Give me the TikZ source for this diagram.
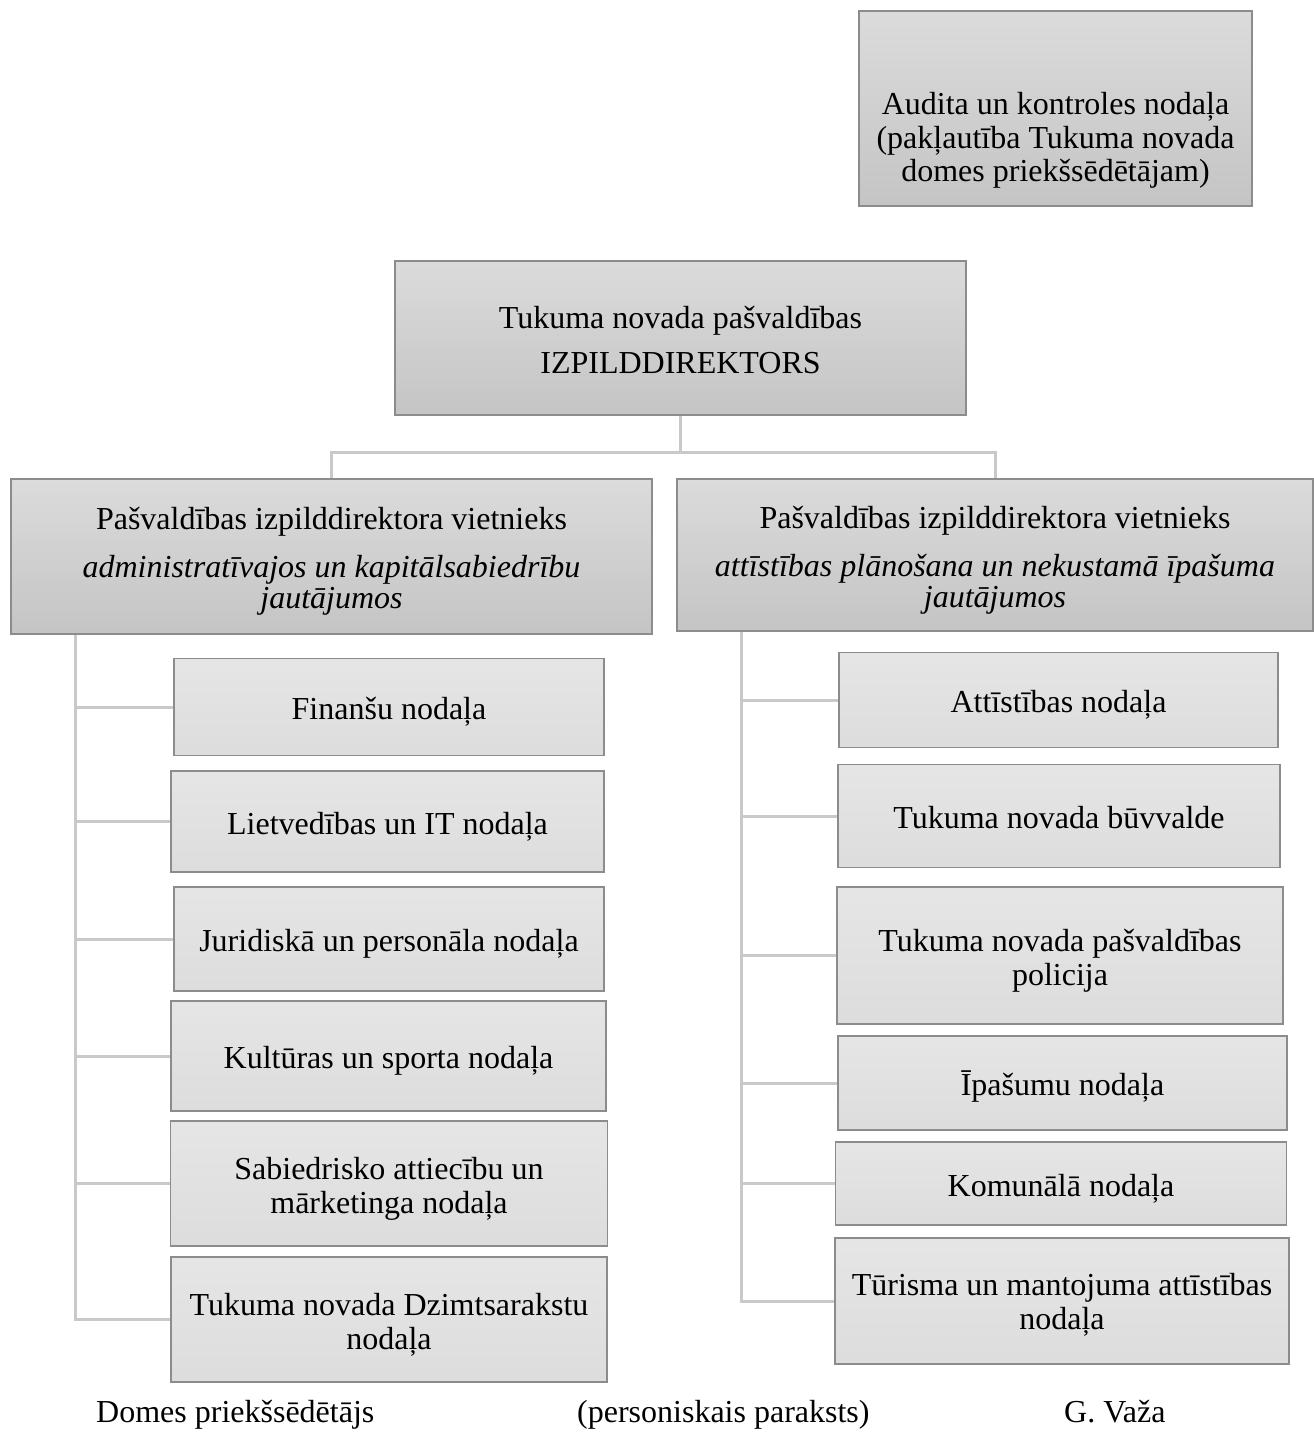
\documentclass[tikz,border=0pt]{standalone}
\usepackage{fontspec}
\setmainfont{Liberation Serif}
\begin{document}
\begin{tikzpicture}[x=1pt,y=-1pt,
  basebox/.style={draw=black!45, line width=1.3pt, align=center, inner sep=0pt,
    font=\fontsize{32}{34}\selectfont, text=black,
    execute at begin node={\rule{0pt}{33pt}},
    execute at end node={\rule[-8pt]{0pt}{8pt}}},
  toph/.style={execute at begin node={\rule{0pt}{#1}}},
  headbox/.style={basebox, top color=black!14, bottom color=black!23},
  unitbox/.style={basebox, top color=black!10, bottom color=black!13.5},
  conn/.style={draw=black!21, line width=3pt},
  sig/.style={font=\fontsize{32}{34}\selectfont, anchor=base west, inner sep=0pt}
]
\useasboundingbox (0,0) rectangle (1314,1433);

% head boxes
\node[headbox, minimum width=393pt, minimum height=195pt] (audit) at (1055.5,108.5) {};
\node[font=\fontsize{32}{33.5}\selectfont, align=center, inner sep=0pt] (audittxt) at (1055.5,140.5) {Audita un kontroles nodaļa\\(pakļautība Tukuma novada\\domes priekšsēdētājam)};

\node[headbox, toph=78pt, minimum width=571pt, minimum height=154pt] (top) at (680.5,338)
  {Tukuma novada pašvaldības\\[11pt]IZPILDDIREKTORS};

\node[headbox, toph=112pt, minimum width=641pt, minimum height=155pt] (LV) at (331.5,556.5)
  {Pašvaldības izpilddirektora vietnieks\\[14pt]{\itshape administratīvajos un kapitālsabiedrību}\\[-3pt]{\itshape jautājumos}};

\node[headbox, toph=112pt, minimum width=636pt, minimum height=152pt] (RV) at (995,555)
  {Pašvaldības izpilddirektora vietnieks\\[14pt]{\itshape attīstības plānošana un nekustamā īpašuma}\\[-3pt]{\itshape jautājumos}};

% left units
\node[unitbox, minimum width=430pt, minimum height=97pt]  (L1) at (389,707)   {Finanšu nodaļa};
\node[unitbox, minimum width=433pt, minimum height=101pt] (L2) at (387.5,821.5) {Lietvedības un IT nodaļa};
\node[unitbox, minimum width=430pt, minimum height=104pt] (L3) at (389,939)   {Juridiskā un personāla nodaļa};
\node[unitbox, minimum width=435pt, minimum height=110pt] (L4) at (388.5,1056) {Kultūras un sporta nodaļa};
\node[unitbox, toph=67pt, minimum width=437pt, minimum height=125pt] (L5) at (389,1183.5) {Sabiedrisko attiecību un\\mārketinga nodaļa};
\node[unitbox, toph=67pt, minimum width=436pt, minimum height=125pt] (L6) at (389,1319.5) {Tukuma novada Dzimtsarakstu\\nodaļa};

% right units
\node[unitbox, minimum width=439pt, minimum height=95pt]  (R1) at (1058.5,700) {Attīstības nodaļa};
\node[unitbox, minimum width=442pt, minimum height=103pt] (R2) at (1059,816)   {Tukuma novada būvvalde};
\node[unitbox, toph=67pt, minimum width=446pt, minimum height=137pt] (R3) at (1060,955.5)  {Tukuma novada pašvaldības\\policija};
\node[unitbox, minimum width=449pt, minimum height=94pt]  (R4) at (1062.5,1083) {Īpašumu nodaļa};
\node[unitbox, minimum width=451pt, minimum height=83pt]  (R5) at (1061,1183.5) {Komunālā nodaļa};
\node[unitbox, toph=65pt, minimum width=454pt, minimum height=126pt] (R6) at (1062,1301)  {Tūrisma un mantojuma attīstības\\nodaļa};

% connectors
\draw[conn] (top.south) -- ++(0,37) -| (LV.north);
\draw[conn] (top.south) -- ++(0,37) -| (RV.north);
\foreach \c in {L1,L2,L3,L4,L5,L6}
  \draw[conn] ([xshift=65pt]LV.south west) |- (\c.west);
\foreach \c in {R1,R2,R3,R4,R5,R6}
  \draw[conn] ([xshift=65pt]RV.south west) |- (\c.west);

% signature line
\node[sig] (s1) at (96,1422)  {Domes priekšsēdētājs};
\node[sig] (s2) at (577,1422) {(personiskais paraksts)};
\node[sig] (s3) at (1064,1422) {G. Važa};
\end{tikzpicture}
\end{document}
